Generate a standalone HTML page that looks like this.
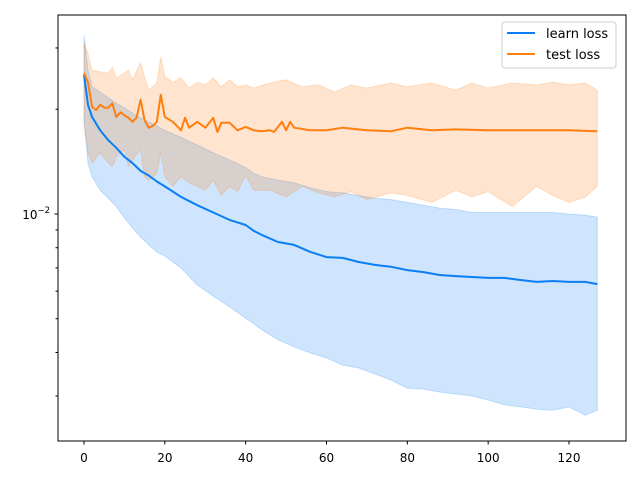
<!DOCTYPE html>
<html><head><meta charset="utf-8"><style>
html,body{margin:0;padding:0;background:#fff;}
svg{display:block;font-family:"DejaVu Sans","Liberation Sans",sans-serif;}
</style></head><body>
<svg id="chart" width="640" height="480" viewBox="0 0 640 480">
<rect width="640" height="480" fill="#fff"/>
<g id="bands"></g><g id="lines"></g><g id="axes"></g>
<rect x="58" y="15" width="568" height="426" fill="none" stroke="#000" stroke-width="1"/>
<g>
<rect x="502" y="22" width="114" height="46" rx="3" fill="#fff" fill-opacity="0.8" stroke="#ccc"/>
<g><line x1="507" y1="33" x2="535" y2="33" stroke="#0a7ff5" stroke-width="2"/><text x="546" y="38" font-size="13">learn loss</text></g>
<g><line x1="507" y1="54" x2="535" y2="54" stroke="#ff7f0e" stroke-width="2"/><text x="546" y="59" font-size="13">test loss</text></g>
</g>
</svg>
<script>
const learnEpochs=[0,1,2,4,6,8,10,12,14,16,18,20,24,28,32,36,40,42,44,48,52,56,60,64,68,72,76,80,84,88,92,96,100,104,108,112,116,120,124,127];
const learnMean=[0.0251,0.0206,0.0190,0.0174,0.0163,0.0155,0.0146,0.0140,0.0133,0.0129,0.0124,0.0120,0.0112,0.0106,0.0101,0.00962,0.00930,0.00894,0.00871,0.00831,0.00815,0.00778,0.00752,0.00748,0.00728,0.00714,0.00705,0.00690,0.00681,0.00668,0.00663,0.00659,0.00655,0.00655,0.00646,0.00638,0.00642,0.00638,0.00638,0.00629];
const learnUpper=[0.0327,0.0259,0.0232,0.0224,0.0216,0.0208,0.0202,0.0195,0.0189,0.0184,0.0179,0.0174,0.0166,0.0158,0.0150,0.0143,0.0136,0.0131,0.0128,0.0125,0.0123,0.0119,0.0116,0.0115,0.0113,0.0111,0.0110,0.0108,0.0106,0.0104,0.0103,0.0101,0.0101,0.0101,0.0101,0.0101,0.0101,0.0100,0.00993,0.00980];
const learnLower=[0.0186,0.0140,0.0128,0.0117,0.0111,0.0105,0.00974,0.00911,0.00859,0.00815,0.00778,0.00757,0.00700,0.00625,0.00581,0.00541,0.00502,0.00483,0.00465,0.00435,0.00415,0.00399,0.00386,0.00368,0.00361,0.00347,0.00333,0.00316,0.00314,0.00308,0.00304,0.00300,0.00292,0.00283,0.00279,0.00275,0.00273,0.00279,0.00264,0.00273];
const testEpochs=[0,1,2,3,4,5,6,7,8,9,10,11,12,13,14,15,16,17,18,19,20,22,24,25,26,28,30,32,33,34,36,38,40,42,44,46,47,49,50,51,52,56,60,64,70,76,80,86,92,100,110,120,127];
const testMean=[0.0254,0.0239,0.0203,0.0199,0.0206,0.0202,0.0202,0.0208,0.0190,0.0196,0.0192,0.0189,0.0184,0.0189,0.0213,0.0186,0.0177,0.0179,0.0184,0.0220,0.0190,0.0184,0.0174,0.0189,0.0177,0.0184,0.0177,0.0189,0.0172,0.0183,0.0183,0.0174,0.0178,0.0174,0.0173,0.0174,0.0172,0.0184,0.0174,0.0184,0.0177,0.0174,0.0174,0.0177,0.0174,0.0173,0.0177,0.0174,0.0175,0.0174,0.0174,0.0174,0.0173];
const testBandEpochs=[0,1,2,4,6,7,8,10,11,12,14,15,16,18,19,20,22,24,26,28,30,32,34,36,38,40,42,46,50,54,58,62,66,70,76,80,86,92,96,100,106,112,116,120,124,127];
const testUpper=[0.0310,0.0290,0.0259,0.0256,0.0254,0.0264,0.0246,0.0254,0.0259,0.0243,0.0272,0.0248,0.0227,0.0238,0.0283,0.0248,0.0239,0.0246,0.0230,0.0239,0.0235,0.0246,0.0232,0.0243,0.0232,0.0235,0.0230,0.0238,0.0243,0.0232,0.0235,0.0224,0.0235,0.0230,0.0238,0.0232,0.0238,0.0227,0.0238,0.0230,0.0238,0.0235,0.0239,0.0235,0.0238,0.0227];
const testLower=[0.0180,0.0150,0.0140,0.0150,0.0140,0.0137,0.0146,0.0153,0.0137,0.0143,0.0153,0.0128,0.0125,0.0131,0.0150,0.0128,0.0120,0.0128,0.0123,0.0120,0.0117,0.0125,0.0113,0.0120,0.0116,0.0129,0.0117,0.0117,0.0112,0.0120,0.0115,0.0112,0.0116,0.0110,0.0115,0.0113,0.0108,0.0117,0.0112,0.0116,0.0105,0.0120,0.0113,0.0108,0.0112,0.0120];
const xTicks=[0,20,40,60,80,100,120];
const yMinorTicks=[0.003,0.004,0.005,0.006,0.007,0.008,0.009,0.02,0.03];

const NS="http://www.w3.org/2000/svg";
function xs(e){return 84+e*(485/120);}
function ys(v){return 214-348*Math.log10(v/0.01);}
function mk(tag,attrs,parent){const el=document.createElementNS(NS,tag);for(const k in attrs)el.setAttribute(k,attrs[k]);parent.appendChild(el);return el;}
function bandPath(ep,up,lo){let d="";ep.forEach((e,i)=>{d+=(i?"L":"M")+xs(e).toFixed(1)+","+ys(up[i]).toFixed(1);});for(let i=ep.length-1;i>=0;i--)d+="L"+xs(ep[i]).toFixed(1)+","+ys(lo[i]).toFixed(1);return d+"Z";}
function linePath(ep,v){return ep.map((e,i)=>(i?"L":"M")+xs(e).toFixed(1)+","+ys(v[i]).toFixed(1)).join("");}
const bands=document.getElementById("bands"),lines=document.getElementById("lines"),axes=document.getElementById("axes");
const b1=mk("path",{d:bandPath(learnEpochs,learnUpper,learnLower),fill:"#0a7ff5","fill-opacity":"0.2",stroke:"#0a7ff5","stroke-opacity":"0.2"},bands);


const b2=mk("path",{d:bandPath(testBandEpochs,testUpper,testLower),fill:"#ff7f0e","fill-opacity":"0.2",stroke:"#ff7f0e","stroke-opacity":"0.2"},bands);


const l1=mk("path",{d:linePath(learnEpochs,learnMean),fill:"none",stroke:"#0a7ff5","stroke-width":"2","stroke-linejoin":"round"},lines);


const l2=mk("path",{d:linePath(testEpochs,testMean),fill:"none",stroke:"#ff7f0e","stroke-width":"2","stroke-linejoin":"round"},lines);


xTicks.forEach(t=>{
  const g=mk("g",{},axes);
  
  
  mk("line",{x1:xs(t),x2:xs(t),y1:441,y2:444.5,stroke:"#000"},g);
  const tx=mk("text",{x:xs(t),y:462,"font-size":"12","text-anchor":"middle"},g);tx.textContent=t;
});
yMinorTicks.forEach(v=>{
  const ln=mk("line",{x1:55.5,x2:58,y1:ys(v),y2:ys(v),stroke:"#000"},axes);
  
  
});
const maj=mk("g",{},axes);


mk("line",{x1:54.5,x2:58,y1:ys(0.01),y2:ys(0.01),stroke:"#000"},maj);
const yl=mk("text",{x:50,y:ys(0.01)+5,"font-size":"12","text-anchor":"end"},maj);
yl.innerHTML='10<tspan font-size="8.5" dy="-6">−2</tspan>';
</script>
</body></html>
